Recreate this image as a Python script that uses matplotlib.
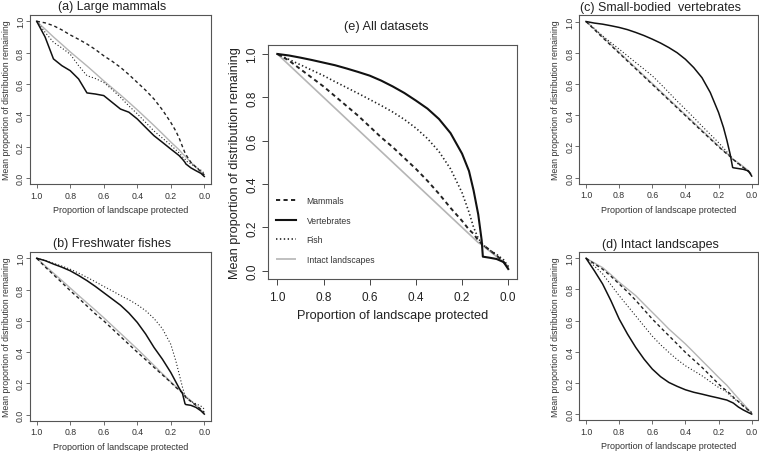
import matplotlib
matplotlib.use('Agg')
import matplotlib.pyplot as plt

plt.rcParams['font.family'] = ['Liberation Sans', 'DejaVu Sans']
plt.rcParams['lines.scale_dashes'] = False

# Shared grid of "proportion of landscape protected" values
X = [1.0, 0.95, 0.9, 0.85, 0.8, 0.75, 0.7, 0.65, 0.6, 0.55, 0.5, 0.45, 0.4,
     0.35, 0.3, 0.25, 0.2, 0.17, 0.15, 0.13, 0.115, 0.11, 0.08, 0.05, 0.02, 0.0]

series_names = ["Mammals", "Vertebrates", "Fish", "Intact landscapes"]
x_ticks = [1.0, 0.8, 0.6, 0.4, 0.2, 0.0]
y_ticks = [0.0, 0.2, 0.4, 0.6, 0.8, 1.0]
tick_labels = ["1.0", "0.8", "0.6", "0.4", "0.2", "0.0"]
y_tick_labels = ["0.0", "0.2", "0.4", "0.6", "0.8", "1.0"]

# (a) Large mammals
a_mammals = [1.0, 0.99, 0.972, 0.945, 0.913, 0.885, 0.855, 0.82, 0.78, 0.745, 0.706, 0.66, 0.61,
             0.56, 0.504, 0.435, 0.355, 0.3, 0.255, 0.2, 0.16, 0.15, 0.1, 0.07, 0.04, 0.02]
a_vertebrates = [1.0, 0.9, 0.76, 0.717, 0.685, 0.632, 0.543, 0.536, 0.526, 0.483, 0.44, 0.42, 0.377,
                 0.323, 0.27, 0.228, 0.185, 0.16, 0.143, 0.12, 0.1, 0.09, 0.065, 0.047, 0.03, 0.01]
a_fish = [1.0, 0.93, 0.866, 0.83, 0.79, 0.717, 0.653, 0.635, 0.61, 0.565, 0.515, 0.46, 0.41,
          0.355, 0.30, 0.255, 0.21, 0.18, 0.16, 0.135, 0.12, 0.11, 0.09, 0.07, 0.05, 0.03]
a_intact = [1.0, 0.95, 0.9, 0.853, 0.805, 0.76, 0.715, 0.668, 0.62, 0.575, 0.53, 0.483, 0.435,
            0.385, 0.335, 0.283, 0.23, 0.2, 0.18, 0.155, 0.14, 0.135, 0.1, 0.07, 0.04, 0.02]

# (b) Freshwater fishes
b_mammals = [1.0, 0.945, 0.895, 0.845, 0.793, 0.745, 0.695, 0.645, 0.6, 0.55, 0.5, 0.45, 0.4,
             0.352, 0.303, 0.255, 0.207, 0.175, 0.158, 0.14, 0.12, 0.11, 0.085, 0.06, 0.035, 0.015]
b_vertebrates = [1.0, 0.985, 0.963, 0.943, 0.92, 0.89, 0.857, 0.82, 0.78, 0.74, 0.70, 0.65, 0.59,
                 0.516, 0.43, 0.355, 0.27, 0.21, 0.17, 0.135, 0.07, 0.065, 0.06, 0.047, 0.025, 0.004]
b_fish = [1.0, 0.985, 0.968, 0.95, 0.93, 0.905, 0.878, 0.85, 0.82, 0.792, 0.762, 0.735, 0.703,
          0.665, 0.615, 0.55, 0.45, 0.345, 0.26, 0.175, 0.12, 0.11, 0.085, 0.07, 0.055, 0.036]
b_intact = [1.0, 0.952, 0.905, 0.858, 0.81, 0.762, 0.715, 0.668, 0.62, 0.57, 0.52, 0.47, 0.42,
            0.368, 0.315, 0.262, 0.21, 0.18, 0.16, 0.14, 0.122, 0.117, 0.09, 0.06, 0.03, 0.015]

# (c) Small-bodied vertebrates
c_mammals = [1.0, 0.948, 0.897, 0.847, 0.797, 0.747, 0.697, 0.647, 0.597, 0.547, 0.497, 0.447, 0.397,
             0.347, 0.297, 0.248, 0.198, 0.17, 0.152, 0.135, 0.12, 0.115, 0.09, 0.065, 0.04, 0.02]
c_vertebrates = [1.0, 0.99, 0.983, 0.973, 0.962, 0.948, 0.93, 0.91, 0.887, 0.862, 0.833, 0.8, 0.758,
                 0.705, 0.64, 0.545, 0.417, 0.32, 0.24, 0.15, 0.065, 0.063, 0.058, 0.053, 0.043, 0.01]
c_fish = [1.0, 0.955, 0.908, 0.865, 0.823, 0.78, 0.737, 0.695, 0.652, 0.6, 0.545, 0.49, 0.438,
          0.385, 0.33, 0.277, 0.224, 0.19, 0.165, 0.14, 0.12, 0.115, 0.085, 0.064, 0.04, 0.02]
c_intact = [1.0, 0.953, 0.903, 0.853, 0.803, 0.753, 0.703, 0.653, 0.603, 0.553, 0.503, 0.453, 0.403,
            0.353, 0.303, 0.253, 0.203, 0.173, 0.155, 0.135, 0.12, 0.115, 0.095, 0.07, 0.045, 0.02]

# (d) Intact landscapes
d_mammals = [1.0, 0.965, 0.93, 0.885, 0.835, 0.785, 0.73, 0.67, 0.61, 0.556, 0.503, 0.45, 0.396,
             0.348, 0.30, 0.247, 0.193, 0.165, 0.148, 0.13, 0.115, 0.107, 0.08, 0.05, 0.025, 0.01]
d_vertebrates = [1.0, 0.92, 0.835, 0.728, 0.61, 0.514, 0.428, 0.353, 0.289, 0.24, 0.203, 0.178, 0.156,
                 0.14, 0.128, 0.115, 0.103, 0.095, 0.09, 0.08, 0.073, 0.07, 0.045, 0.026, 0.01, 0.0]
d_fish = [1.0, 0.95, 0.9, 0.83, 0.76, 0.695, 0.63, 0.565, 0.50, 0.445, 0.396, 0.35, 0.31,
          0.278, 0.246, 0.208, 0.171, 0.155, 0.14, 0.12, 0.108, 0.1, 0.08, 0.055, 0.025, 0.01]
d_intact = [1.0, 0.97, 0.94, 0.895, 0.846, 0.803, 0.76, 0.706, 0.653, 0.6, 0.546, 0.498, 0.45,
            0.397, 0.343, 0.29, 0.236, 0.205, 0.185, 0.16, 0.142, 0.135, 0.1, 0.065, 0.03, 0.005]

# (e) All datasets
e_mammals = [1.0, 0.97, 0.93, 0.89, 0.85, 0.805, 0.76, 0.715, 0.665, 0.615, 0.57, 0.52, 0.47,
             0.415, 0.355, 0.29, 0.23, 0.19, 0.17, 0.14, 0.125, 0.12, 0.095, 0.07, 0.04, 0.015]
e_vertebrates = [1.0, 0.993, 0.983, 0.972, 0.96, 0.948, 0.933, 0.917, 0.9, 0.877, 0.85, 0.82, 0.785,
                 0.748, 0.70, 0.635, 0.54, 0.46, 0.37, 0.26, 0.14, 0.065, 0.06, 0.054, 0.04, 0.008]
e_fish = [1.0, 0.975, 0.95, 0.925, 0.9, 0.872, 0.845, 0.818, 0.79, 0.762, 0.732, 0.698, 0.658,
          0.61, 0.55, 0.47, 0.36, 0.27, 0.2, 0.15, 0.128, 0.12, 0.095, 0.075, 0.05, 0.02]
e_intact = [1.0, 0.95, 0.9, 0.85, 0.8, 0.75, 0.7, 0.65, 0.6, 0.55, 0.5, 0.45, 0.4,
            0.35, 0.3, 0.25, 0.2, 0.17, 0.15, 0.13, 0.12, 0.115, 0.09, 0.065, 0.04, 0.02]

titles = {"a": "(a) Large mammals", "b": "(b) Freshwater fishes",
          "c": "(c) Small-bodied  vertebrates", "d": "(d) Intact landscapes",
          "e": "(e) All datasets"}
xlabel = "Proportion of landscape protected"
ylabel = "Mean proportion of distribution remaining"

data = {
    "a": [a_mammals, a_vertebrates, a_fish, a_intact],
    "b": [b_mammals, b_vertebrates, b_fish, b_intact],
    "c": [c_mammals, c_vertebrates, c_fish, c_intact],
    "d": [d_mammals, d_vertebrates, d_fish, d_intact],
    "e": [e_mammals, e_vertebrates, e_fish, e_intact],
}

fig = plt.figure(figsize=(7.59, 4.52), dpi=100)

positions = {
    "a": [0.0395, 0.590, 0.2385, 0.3746],
    "b": [0.0395, 0.0664, 0.2385, 0.3739],
    "c": [0.7634, 0.591, 0.2357, 0.373],
    "d": [0.7634, 0.0679, 0.2357, 0.3723],
    "e": [0.3532, 0.3796, 0.3286, 0.518],
}

TXT = '#333333'

for key in ["a", "b", "c", "d", "e"]:
    ax = fig.add_axes(positions[key])
    big = key == "e"
    lw_solid = 1.5 if big else 1.1
    lw_dash = 1.4 if big else 1.0
    lw_dot = 1.2 if big else 0.8
    lw_gray = 1.2 if big else 1.0
    dash = (3.0, 2.4) if big else (2.4, 2.0)
    dot = (1.0, 1.8) if big else (0.8, 1.5)
    m, v, f, g = data[key]
    hg, = ax.plot(X, g, color='#b5b5b5', lw=lw_gray, solid_capstyle='butt', label=series_names[3])
    hm, = ax.plot(X, m, color='#222222', lw=lw_dash, dashes=dash, label=series_names[0])
    hf, = ax.plot(X, f, color='#222222', lw=lw_dot, dashes=dot, label=series_names[2])
    hv, = ax.plot(X, v, color='#111111', lw=lw_solid, label=series_names[1])

    ax.set_xlim(1.04, -0.04)
    ax.set_ylim(-0.04, 1.04)
    ax.set_xticks(x_ticks)
    ax.set_xticklabels(tick_labels)
    ax.set_yticks(y_ticks)
    ax.set_yticklabels(y_tick_labels, rotation=90, va='center')

    for sp in ax.spines.values():
        sp.set_color('#555555')
        sp.set_linewidth(0.8)

    if big:
        ax.tick_params(direction='out', length=4, width=0.7, colors='#444444',
                       labelsize=8.5, labelcolor='#222222')
        ax.tick_params(axis='x', pad=4)
        ax.tick_params(axis='y', pad=3)
        ax.set_xlabel(xlabel, fontsize=9.2, color='#222222', labelpad=5)
        ax.set_ylabel(ylabel, fontsize=9.2, color='#222222', labelpad=4)
        ax.text(0.474, 1.055, titles[key], transform=ax.transAxes, ha='center', va='bottom',
                fontsize=9.2, color='#222222')
        leg = ax.legend(handles=[hm, hv, hf, hg], loc='lower left', bbox_to_anchor=(0.03, 0.065),
                        frameon=False, fontsize=6.2, handlelength=2.4, handletextpad=1.2,
                        labelspacing=1.25, borderpad=0, borderaxespad=0)
        for t in leg.get_texts():
            t.set_color('#333333')
    else:
        ax.tick_params(direction='out', length=3, width=0.6, colors='#555555',
                       labelsize=6.3, labelcolor=TXT)
        ax.tick_params(axis='x', pad=1.5)
        ax.tick_params(axis='y', pad=0.5)
        ax.set_xlabel(xlabel, fontsize=6.5, color=TXT, labelpad=4)
        ax.set_ylabel(ylabel, fontsize=6.3, color=TXT, labelpad=4)
        ax.text(0.455, 1.015, titles[key], transform=ax.transAxes, ha='center', va='bottom',
                fontsize=9.0, color='#222222')

fig.savefig('out.png', dpi=100)
